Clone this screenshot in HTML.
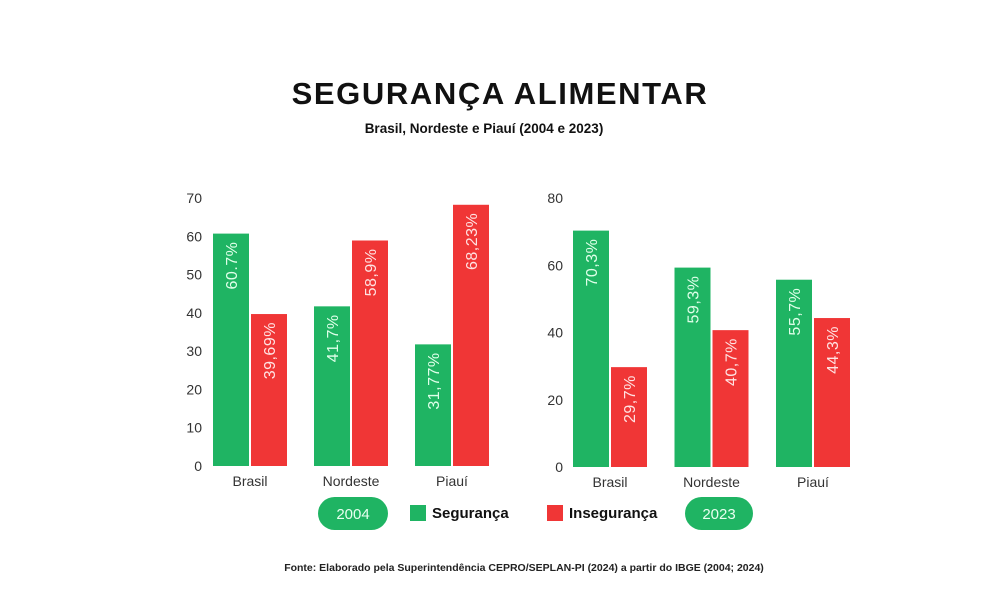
<!DOCTYPE html>
<html><head><meta charset="utf-8"><style>
body{margin:0;background:#fff;width:1000px;height:594px;overflow:hidden;font-family:"Liberation Sans",sans-serif}
svg text{font-family:"Liberation Sans",sans-serif}
</style></head><body>
<svg id="c" width="1000" height="594">
<text x="500" y="104" text-anchor="middle" font-size="31" font-weight="bold" fill="#111" letter-spacing="1.6">SEGURANÇA ALIMENTAR</text>
<text x="484" y="133" text-anchor="middle" font-size="13.5" font-weight="bold" fill="#111">Brasil, Nordeste e Piauí (2004 e 2023)</text>
<rect x="318" y="497" width="70" height="33" rx="16.5" fill="#1fb463"/>
<text x="353" y="519" text-anchor="middle" font-size="15" fill="#e8fff0">2004</text>
<rect x="685" y="497" width="68" height="33" rx="16.5" fill="#1fb463"/>
<text x="719" y="519" text-anchor="middle" font-size="15" fill="#e8fff0">2023</text>
<rect x="410" y="505" width="16" height="16" fill="#1fb463"/>
<text x="432" y="518" font-size="15" font-weight="bold" fill="#111">Segurança</text>
<rect x="547" y="505" width="16" height="16" fill="#f03636"/>
<text x="569" y="518" font-size="15" font-weight="bold" fill="#111">Insegurança</text>
<text x="524" y="571" text-anchor="middle" font-size="10.5" font-weight="bold" fill="#222">Fonte: Elaborado pela Superintendência CEPRO/SEPLAN-PI (2024) a partir do IBGE (2004; 2024)</text>
</svg>
<script>
const categories=["Brasil","Nordeste","Piauí"];
const seg2004=[60.7,41.7,31.77];
const inseg2004=[39.69,58.9,68.23];
const lab2004s=["60.7%","41,7%","31,77%"];
const lab2004i=["39,69%","58,9%","68,23%"];
const ticks2004=[0,10,20,30,40,50,60,70];
const seg2023=[70.3,59.3,55.7];
const inseg2023=[29.7,40.7,44.3];
const lab2023s=["70,3%","59,3%","55,7%"];
const lab2023i=["29,7%","40,7%","44,3%"];
const ticks2023=[0,20,40,60,80];
const svg=document.getElementById('c');
const NS="http://www.w3.org/2000/svg";
function mk(t,a,txt){const e=document.createElementNS(NS,t);for(const k in a)e.setAttribute(k,a[k]);if(txt!==undefined)e.textContent=txt;svg.appendChild(e);return e;}
function chart(cfg){
 const y=v=>cfg.y0-(v/cfg.max)*(cfg.y0-cfg.yTop);
 cfg.ticks.forEach(t=>{
  const e=mk('text',{x:cfg.tickX,y:y(t)+5,'text-anchor':'end','font-size':14,fill:'#333'},String(t));
  
  
 });
 categories.forEach((c,i)=>{
  const gx=cfg.x0+i*cfg.step;
  [[cfg.s[i],cfg.ls[i],'#1fb463','#dfffe9','seguranca',0],[cfg.n[i],cfg.ln[i],'#f03636','#ffe2e2','inseguranca',cfg.bw+2]].forEach(([v,l,col,tc,nm,off])=>{
   const x=gx+off;
   const r=mk('rect',{x:x,y:y(v),width:cfg.bw,height:cfg.y0-y(v),fill:col});
   
   
   const cx=x+cfg.bw/2+6, ty=y(v)+8;
   const t=mk('text',{x:cx,y:ty,'text-anchor':'end','font-size':16,fill:tc,transform:'rotate(-90 '+cx+' '+ty+')','letter-spacing':'0.5'},l);
   
   
  });
  const cl=mk('text',{x:gx+cfg.bw+1,y:cfg.y0+20,'text-anchor':'middle','font-size':14,fill:'#333'},c);
  
  
 });
}
chart({id:'2004',x0:213,step:101,bw:36,y0:466,yTop:198,max:70,ticks:ticks2004,tickX:202,s:seg2004,n:inseg2004,ls:lab2004s,ln:lab2004i});
chart({id:'2023',x0:573,step:101.5,bw:36,y0:467,yTop:198,max:80,ticks:ticks2023,tickX:563,s:seg2023,n:inseg2023,ls:lab2023s,ln:lab2023i});
</script>
</body></html>
